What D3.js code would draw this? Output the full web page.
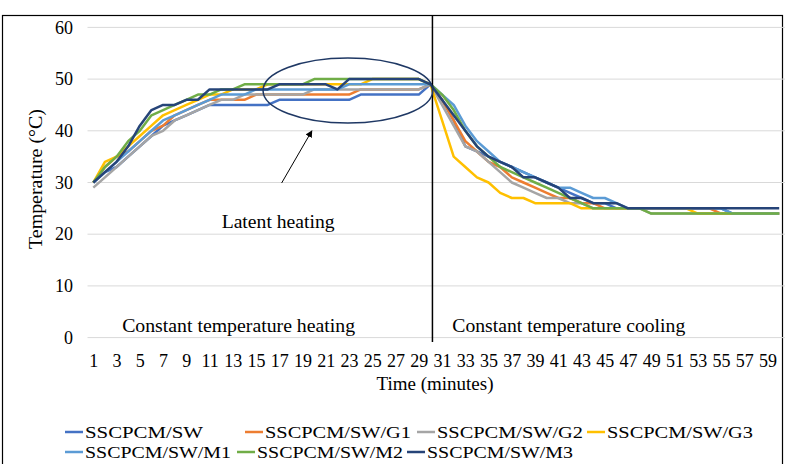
<!DOCTYPE html>
<html>
<head>
<meta charset="utf-8">
<script src="https://cdn.jsdelivr.net/npm/d3@7/dist/d3.min.js"></script>
<style>
  html, body { margin: 0; padding: 0; background: #fff; }
  svg { display: block; }
  text { font-family: "Liberation Serif", "Times New Roman", serif; fill: #000; }
</style>
</head>
<body>
<svg id="chart" width="785" height="464"></svg>
<script>
// Time axis categories (minutes) and the labels shown under the axis
const minutes = [1,2,3,4,5,6,7,8,9,10,11,12,13,14,15,16,17,18,19,20,21,22,23,24,25,26,27,28,29,30,
                 31,32,33,34,35,36,37,38,39,40,41,42,43,44,45,46,47,48,49,50,51,52,53,54,55,56,57,58,59,60];
const timeTickLabels = [1,3,5,7,9,11,13,15,17,19,21,23,25,27,29,31,33,35,37,39,41,43,45,47,49,51,53,55,57,59];
const tempTicks = [0,10,20,30,40,50,60];

const seriesNames = ["SSCPCM/SW","SSCPCM/SW/G1","SSCPCM/SW/G2","SSCPCM/SW/G3","SSCPCM/SW/M1","SSCPCM/SW/M2","SSCPCM/SW/M3"];

// Temperature (°C) per minute: heating 1-30, cooling 31-60
const sw = [30,32,33,35,37,39,41,42,43,44, 45,45,45,45,45,45,46,46,46,46, 46,46,46,47,47,47,47,47,47,49,
            46,42,37,36,35,34,33,32,31,30, 29,28,27,26,26,25,25,25,25,25, 25,25,25,25,25,24,24,24,24,24];
const swG1 = [30,33,35,36,38,40,41,43,44,45, 46,46,46,46,47,47,47,47,47,47, 47,47,47,48,48,48,48,48,48,49,
              46,42,38,36,34,33,31,30,29,28, 27,27,26,26,25,25,25,25,25,25, 25,25,25,25,24,24,24,24,24,24];
const swG2 = [29,31,33,35,37,39,40,42,43,44, 45,46,46,47,47,47,47,47,47,48, 48,48,48,48,48,48,48,48,48,49,
              45,41,37,36,34,32,30,29,28,27, 27,26,26,25,25,25,25,25,24,24, 24,24,24,24,24,24,24,24,24,24];
const swG3 = [30,34,35,37,39,41,43,44,45,46, 47,47,48,48,48,49,49,49,49,49, 49,49,49,49,50,50,50,50,50,49,
              42,35,33,31,30,28,27,27,26,26, 26,26,25,25,25,25,25,25,25,25, 25,25,24,24,24,24,24,24,24,24];
const swM1 = [30,32,34,36,38,40,42,43,44,45, 46,47,47,47,48,48,48,48,48,48, 48,48,49,49,49,49,49,49,49,49,
              47,45,41,38,36,34,33,32,31,30, 29,29,28,27,27,26,25,25,25,25, 25,25,25,25,25,24,24,24,24,24];
const swM2 = [30,33,35,38,40,43,44,45,46,47, 47,48,48,49,49,49,49,49,49,50, 50,50,50,50,50,50,50,50,50,49,
              47,44,40,37,35,33,32,31,30,29, 28,27,26,25,25,25,25,25,24,24, 24,24,24,24,24,24,24,24,24,24];
const swM3 = [30,32,34,37,41,44,45,45,46,46, 48,48,48,48,48,48,49,49,49,49, 49,48,50,50,50,50,50,50,50,49,
              46,43,40,37,35,34,33,31,31,30, 29,27,27,26,26,26,25,25,25,25, 25,25,25,25,25,25,25,25,25,25];

const seriesValues = [sw, swG1, swG2, swG3, swM1, swM2, swM3];
const seriesColors = ["#4472C4","#ED7D31","#A5A5A5","#FFC000","#5B9BD5","#70AD47","#264478"];

const svg = d3.select("#chart");

// chart frame
svg.append("rect")
  .attr("x", 2.5).attr("y", 15.5).attr("width", 780).attr("height", 460)
  .attr("fill", "none").attr("stroke", "#000").attr("stroke-width", 1.2);

const x = d3.scaleLinear().domain([0.5, 60.5]).range([87.5, 785]);
const y = d3.scaleLinear().domain([0, 60]).range([337.6, 27.4]);

// horizontal gridlines
svg.append("g").selectAll("line").data(tempTicks).join("line")
  .attr("x1", x(0.5)).attr("x2", x(60.5))
  .attr("y1", d => y(d)).attr("y2", d => y(d))
  .attr("stroke", "#D9D9D9").attr("stroke-width", 1);

// y axis labels
const yAxis = d3.axisLeft(y).tickValues(tempTicks).tickSize(0).tickPadding(0);
const gy = svg.append("g").attr("transform", "translate(73,0)").call(yAxis);
gy.select(".domain").remove();
gy.selectAll("text").attr("font-size", 18).attr("font-family", "Liberation Serif").attr("fill", "#000");

// x axis labels
const xAxis = d3.axisBottom(x).tickValues(timeTickLabels).tickSize(0).tickPadding(0);
const gx = svg.append("g").attr("transform", "translate(0,354)").call(xAxis);
gx.select(".domain").remove();
gx.selectAll("text").attr("font-size", 18).attr("font-family", "Liberation Serif").attr("fill", "#000");

// axis titles
svg.append("text")
  .attr("transform", "translate(42,179) rotate(-90)")
  .attr("text-anchor", "middle").attr("font-size", 19)
  .attr("textLength", 140).attr("lengthAdjust", "spacingAndGlyphs")
  .text("Temperature (°C)");
svg.append("text")
  .attr("x", 435).attr("y", 390)
  .attr("text-anchor", "middle").attr("font-size", 19)
  .text("Time (minutes)");

// temperature curves
const line = d3.line()
  .x((d, i) => x(minutes[i]))
  .y(d => y(d));

svg.append("g").selectAll("path").data(seriesValues).join("path")
  .attr("d", d => line(d))
  .attr("fill", "none")
  .attr("stroke", (d, i) => seriesColors[i])
  .attr("stroke-width", 2.5)
  .attr("stroke-linejoin", "round");

// boundary between heating and cooling
svg.append("line")
  .attr("x1", x(30) + 2).attr("x2", x(30) + 2)
  .attr("y1", 15).attr("y2", 342)
  .attr("stroke", "#000").attr("stroke-width", 1.5);

// latent heating plateau highlight
svg.append("ellipse")
  .attr("cx", x(22.9)).attr("cy", y(47.8))
  .attr("rx", x(22.9) - x(15.6)).attr("ry", y(41.5) - y(47.8))
  .attr("fill", "none").attr("stroke", "#1F3864").attr("stroke-width", 1.5);

// arrow pointing to the plateau
svg.append("defs").append("marker")
  .attr("id", "arrowHead").attr("viewBox", "0 0 10 10")
  .attr("refX", 9).attr("refY", 5)
  .attr("markerWidth", 7).attr("markerHeight", 7)
  .attr("orient", "auto")
  .append("path").attr("d", "M0,0 L10,5 L0,10 z").attr("fill", "#000");

svg.append("line")
  .attr("x1", x(17.2)).attr("y1", y(29.9))
  .attr("x2", x(19.8)).attr("y2", y(40.0))
  .attr("stroke", "#000").attr("stroke-width", 1)
  .attr("marker-end", "url(#arrowHead)");

// annotations
const notes = [
  { text: "Latent heating", at: 16.9, t: 21.2, w: 113 },
  { text: "Constant temperature heating", at: 13.5, t: 1.1, w: 233 },
  { text: "Constant temperature cooling", at: 41.9, t: 1.1, w: 233 }
];
svg.append("g").selectAll("text").data(notes).join("text")
  .attr("x", d => x(d.at)).attr("y", d => y(d.t))
  .attr("text-anchor", "middle").attr("font-size", 18)
  .attr("textLength", d => d.w).attr("lengthAdjust", "spacingAndGlyphs")
  .text(d => d.text);

// legend
const legendRows = [[0, 1, 2, 3], [4, 5, 6]];
const legendStarts = [[65, 245, 417, 587], [65, 237, 407]];
const legendY = [432, 452];
legendRows.forEach((row, r) => {
  row.forEach((si, k) => {
    const g = svg.append("g").attr("transform", `translate(${legendStarts[r][k]},${legendY[r]})`);
    g.append("line").attr("x1", 0).attr("x2", 18).attr("y1", 0).attr("y2", 0)
      .attr("stroke", seriesColors[si]).attr("stroke-width", 2.5);
    g.append("text").attr("x", 20).attr("y", 0).attr("dy", "0.35em")
      .attr("font-size", 17)
      .attr("textLength", si === 0 ? 118 : 146).attr("lengthAdjust", "spacingAndGlyphs")
      .text(seriesNames[si]);
  });
});
</script>
</body>
</html>
